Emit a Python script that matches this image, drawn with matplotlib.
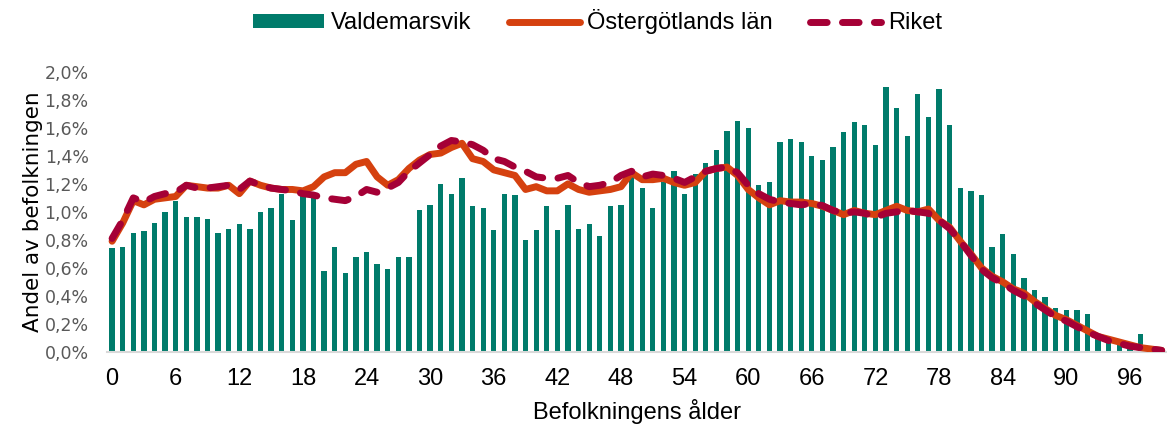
import numpy as np
import matplotlib
matplotlib.use("Agg")
import matplotlib.pyplot as plt
from matplotlib.ticker import FuncFormatter

# ages 0..99
ages = list(range(100))

valdemarsvik = [
    0.74, 0.75, 0.85, 0.86, 0.92, 1.00, 1.08, 0.96, 0.96, 0.95,
    0.85, 0.88, 0.91, 0.88, 1.00, 1.03, 1.13, 0.94, 1.12, 1.11,
    0.58, 0.75, 0.56, 0.68, 0.71, 0.63, 0.59, 0.68, 0.68, 1.01,
    1.05, 1.20, 1.13, 1.24, 1.04, 1.03, 0.87, 1.13, 1.12, 0.80,
    0.87, 1.04, 0.87, 1.05, 0.88, 0.91, 0.83, 1.04, 1.05, 1.25,
    1.17, 1.03, 1.21, 1.29, 1.13, 1.27, 1.35, 1.44, 1.58, 1.65,
    1.60, 1.19, 1.21, 1.50, 1.52, 1.50, 1.40, 1.37, 1.46, 1.57,
    1.64, 1.62, 1.48, 1.89, 1.74, 1.54, 1.84, 1.68, 1.88, 1.62,
    1.17, 1.15, 1.12, 0.75, 0.84, 0.70, 0.53, 0.44, 0.39, 0.31,
    0.30, 0.30, 0.27, 0.10, 0.07, 0.05, 0.04, 0.13, 0.02, 0.01,
]

ostergotland = [
    0.79, 0.92, 1.08, 1.05, 1.09, 1.10, 1.11, 1.19, 1.18, 1.17,
    1.17, 1.19, 1.13, 1.22, 1.19, 1.17, 1.16, 1.16, 1.15, 1.18,
    1.25, 1.28, 1.28, 1.34, 1.36, 1.25, 1.19, 1.23, 1.31, 1.37,
    1.41, 1.42, 1.46, 1.49, 1.38, 1.36, 1.30, 1.28, 1.26, 1.16,
    1.18, 1.15, 1.15, 1.20, 1.16, 1.14, 1.15, 1.16, 1.18, 1.28,
    1.23, 1.23, 1.24, 1.21, 1.19, 1.21, 1.29, 1.31, 1.32, 1.26,
    1.16, 1.10, 1.05, 1.08, 1.07, 1.07, 1.06, 1.04, 1.01, 0.98,
    1.01, 0.99, 0.98, 1.01, 1.04, 1.01, 1.00, 1.02, 0.94, 0.89,
    0.79, 0.70, 0.60, 0.54, 0.50, 0.45, 0.42, 0.36, 0.31, 0.26,
    0.23, 0.19, 0.15, 0.11, 0.09, 0.07, 0.05, 0.03, 0.02, 0.01,
]

riket = [
    0.81, 0.94, 1.10, 1.07, 1.11, 1.13, 1.14, 1.19, 1.17, 1.17,
    1.18, 1.19, 1.16, 1.22, 1.19, 1.17, 1.16, 1.15, 1.13, 1.12,
    1.10, 1.09, 1.08, 1.11, 1.16, 1.14, 1.17, 1.21, 1.29, 1.35,
    1.41, 1.47, 1.51, 1.50, 1.48, 1.44, 1.38, 1.36, 1.32, 1.29,
    1.25, 1.24, 1.24, 1.26, 1.21, 1.18, 1.19, 1.21, 1.26, 1.29,
    1.25, 1.27, 1.26, 1.24, 1.21, 1.25, 1.29, 1.31, 1.32, 1.28,
    1.19, 1.13, 1.09, 1.07, 1.06, 1.05, 1.06, 1.045, 1.01, 0.99,
    1.00, 0.99, 0.96, 0.99, 1.00, 1.01, 1.00, 0.99, 0.94, 0.88,
    0.79, 0.69, 0.59, 0.53, 0.49, 0.44, 0.40, 0.35, 0.30, 0.25,
    0.22, 0.18, 0.14, 0.11, 0.08, 0.06, 0.04, 0.03, 0.02, 0.01,
]

yticks = [0.0, 0.2, 0.4, 0.6, 0.8, 1.0, 1.2, 1.4, 1.6, 1.8, 2.0]
xticks = list(range(0, 97, 6))

TEAL = "#007B6B"
ORANGE = "#D5410F"
CRIMSON = "#A50036"

plt.rcParams['font.family'] = ['Liberation Sans', 'DejaVu Sans']

fig = plt.figure(figsize=(11.67, 4.28), dpi=100)
ax = fig.add_axes([0.0915, 0.178, 0.9085, 0.654])

bars = ax.bar(ages, valdemarsvik, width=0.5, color=TEAL, label="Valdemarsvik", zorder=2)
l1, = ax.plot(ages, ostergotland, color=ORANGE, lw=5, solid_capstyle='round',
              solid_joinstyle='round', label="Östergötlands län", zorder=3)
l2, = ax.plot(ages, riket, color=CRIMSON, lw=5, linestyle=(0, (2.4, 2.2)),
              dash_capstyle='round', label="Riket", zorder=4)

ax.set_xlim(-0.5, 99.5)
ax.set_ylim(0, 2.0)
ax.set_yticks(yticks)
ax.yaxis.set_major_formatter(FuncFormatter(lambda v, p: f"{v:.1f}".replace(".", ",") + "%"))
ax.set_xticks(xticks)

for s in ["top", "right", "left"]:
    ax.spines[s].set_visible(False)
ax.spines["bottom"].set_color("#D9D9D9")
ax.spines["bottom"].set_linewidth(1.5)

ax.tick_params(axis="x", length=0, pad=12, labelsize=17, labelcolor="black")
ax.tick_params(axis="y", length=0, pad=13)
for lbl in ax.get_yticklabels():
    lbl.set_fontfamily("DejaVu Sans")
    lbl.set_fontsize(12.5)
    lbl.set_color("#595959")

ax.set_xlabel("Befolkningens ålder", fontsize=17, labelpad=6)
ax.set_ylabel("Andel av befolkningen", fontsize=15.5, family="DejaVu Sans", labelpad=1)

fig.legend(handles=[bars, l1, l2], loc="center", bbox_to_anchor=(0.512, 0.949),
           ncol=3, frameon=False, fontsize=17, handlelength=3.0, handleheight=0.5,
           handletextpad=0.3, columnspacing=1.6)

fig.savefig("out.png", dpi=100)
